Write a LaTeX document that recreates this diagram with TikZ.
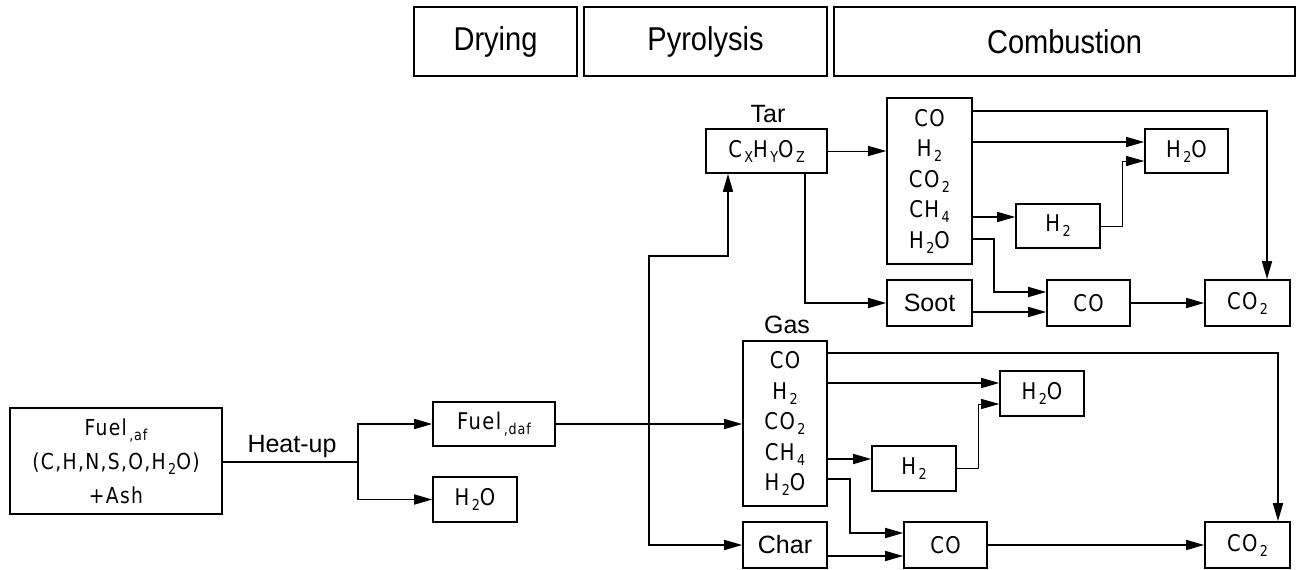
\documentclass[tikz,border=0pt]{standalone}
\usepackage{fontspec}
\setmainfont{Liberation Sans}
\newfontfamily\isofont[FakeStretch=0.85,LetterSpace=6]{DejaVu Sans}
\newfontfamily\hdfont[FakeStretch=0.88]{Liberation Sans}
\usetikzlibrary{arrows.meta}
\newcommand\lo[1]{\kern2.5pt\raisebox{-5pt}{\fontsize{15}{15}\selectfont #1}}
\begin{document}
\begin{tikzpicture}[x=1pt,y=-1pt,
  box/.style={draw, line width=1.6pt, inner sep=0pt, align=center},
  iso/.style={font=\isofont\fontsize{23}{30.5}\selectfont},
  lab/.style={font=\fontsize{25}{25}\selectfont},
  hd/.style={font=\hdfont\fontsize{33}{33}\selectfont},
  ln/.style={line width=1.6pt},
  thinln/.style={line width=0.9pt},
  arr/.style={-{Triangle[length=18pt,width=10pt]}}]
\useasboundingbox (0,0) rectangle (1298,570);
% header
\node[box,hd,minimum width=163pt,minimum height=69pt] (hdry) at (495.5,41.5) {Drying};
\node[box,hd,minimum width=243pt,minimum height=69pt] (hpyr) at (705.5,41.5) {Pyrolysis};
\node[box,hd,minimum width=461pt,minimum height=69pt] (hcomb) at (1064.5,41.5) {Combustion};
% boxes
\node[box,font=\isofont\fontsize{22}{34}\selectfont,minimum width=212pt,minimum height=106pt] (fuelaf) at (116,461) {Fuel\lo{,af}\\(C,H,N,S,O,H\lo2O)\\+Ash};
\node[box,iso,minimum width=122pt,minimum height=44pt] (fueldaf) at (494,424) {Fuel\lo{,daf}};
\node[box,iso,minimum width=84pt,minimum height=45pt] (h2o1) at (475,499.5) {H\lo2O};
\node[box,iso,minimum width=121pt,minimum height=44pt] (tar) at (766.5,151) {C\lo{X}H\lo{Y}O\lo{Z}};
\node[box,iso,minimum width=85pt,minimum height=166pt] (big) at (929.5,181) {CO\\H\lo2\\CO\lo2\\CH\lo4\\H\lo2O};
\node[box,iso,minimum width=83pt,minimum height=44pt] (h2o2) at (1186.5,151) {H\lo2O};
\node[box,iso,minimum width=84pt,minimum height=44pt] (h2a) at (1058,226) {H\lo2};
\node[box,lab,minimum width=85pt,minimum height=46pt] (soot) at (929.5,303) {Soot};
\node[box,iso,minimum width=83pt,minimum height=46pt] (co1) at (1088.5,303) {CO};
\node[box,iso,minimum width=85pt,minimum height=46pt] (co2a) at (1247.5,303) {CO\lo2};
\node[box,iso,minimum width=84pt,minimum height=165pt] (gas) at (785,423.5) {CO\\H\lo2\\CO\lo2\\CH\lo4\\H\lo2O};
\node[box,iso,minimum width=84pt,minimum height=45pt] (h2o3) at (1042,393.5) {H\lo2O};
\node[box,iso,minimum width=84pt,minimum height=45pt] (h2b) at (914,468.5) {H\lo2};
\node[box,lab,minimum width=84pt,minimum height=46pt] (char) at (785,545) {Char};
\node[box,iso,minimum width=83pt,minimum height=46pt] (co2) at (945.5,545) {CO};
\node[box,iso,minimum width=85pt,minimum height=46pt] (co2b) at (1247.5,545) {CO\lo2};
% labels
\node[lab,anchor=base] (heat) at (292,452) {Heat-up};
\node[lab,anchor=base] (tarlab) at (768,122) {Tar};
\node[lab,anchor=base] (gaslab) at (787,333) {Gas};
% connectors
\coordinate (split) at (358,462);
\draw[ln] (fuelaf.east |- split) -- (split);
\draw[ln,arr] (split) |- (fueldaf.west);
\draw[ln,arr] (split) |- (h2o1.west);
\draw[ln,arr] (fueldaf.east) -- (gas.west |- fueldaf.east);
\coordinate (pv) at (649,424);
\coordinate (tk) at (728,256);
\draw[ln,arr] (pv) |- (tk) -- (tk |- tar.south);
\draw[ln,arr] (pv) |- (char.west);
\draw[thinln,arr] (tar.east) -- (big.west |- tar.east);
\draw[ln,arr] (tar.south -| 805,0) |- (soot.west);
\draw[ln,arr] (big.east |- 0,111) -| (co2a.north -| 1267,0);
\draw[ln,arr] (big.east |- 0,142) -- (h2o2.west |- 0,142);
\draw[ln,arr] (big.east |- 0,217) -- (h2a.west |- 0,217);
\draw[thinln,arr] (h2a.east) -| (1122,161) -- (h2o2.west |- 0,161);
\draw[ln,arr] (big.east |- 0,239) -| (994,292) -- (co1.west |- 0,292);
\draw[ln,arr] (soot.east |- 0,312) -- (co1.west |- 0,312);
\draw[ln,arr] (co1.east) -- (co2a.west);
\draw[ln,arr] (gas.east |- 0,353) -| (co2b.north -| 1278,0);
\draw[ln,arr] (gas.east |- 0,383) -- (h2o3.west |- 0,383);
\draw[ln,arr] (gas.east |- 0,459) -- (h2b.west |- 0,459);
\draw[thinln,arr] (h2b.east) -| (978,404) -- (h2o3.west |- 0,404);
\draw[ln,arr] (gas.east |- 0,479) -| (850,533) -- (co2.west |- 0,533);
\draw[ln,arr] (char.east |- 0,556) -- (co2.west |- 0,556);
\draw[ln,arr] (co2.east) -- (co2b.west);
\end{tikzpicture}
\end{document}
